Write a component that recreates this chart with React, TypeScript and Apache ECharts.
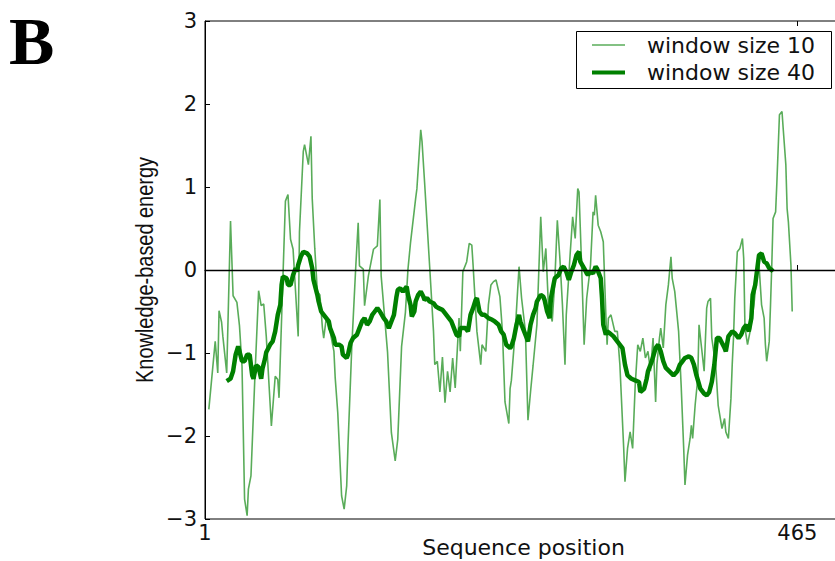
import React, { useEffect, useRef } from "react";
import * as echarts from "echarts";

// Sequence positions and energies, window size 10 (thin line)
const win10Pos = [
  4, 9, 11, 12, 14, 15, 18, 21, 23, 26, 28, 30, 32, 34, 35, 37, 40, 43, 45, 47,
  49, 53, 56, 58, 59, 62, 64, 66, 68, 70, 74, 75, 78, 79, 82, 84, 85, 87, 89, 91,
  93, 94, 96, 99, 102, 103, 105, 108, 110, 112, 113, 116, 119, 121, 122, 125, 126, 129, 133, 136,
  138, 139, 144, 147, 150, 152, 155, 158, 160, 162, 166, 167, 170, 171, 173, 177, 180, 181, 183, 185,
  187, 189, 191, 193, 195, 197, 200, 201, 203, 206, 208, 210, 211, 214, 217, 218, 221, 223, 225, 227,
  229, 232, 234, 236, 239, 240, 241, 244, 247, 249, 252, 254, 256, 258, 261, 264, 266, 268, 270, 273,
  275, 277, 279, 281, 283, 284, 287, 289, 291, 293, 294, 296, 298, 300, 303, 305, 306, 307, 309, 311,
  313, 315, 316, 317, 319, 322, 324, 326, 329, 330, 332, 334, 336, 338, 340, 342, 344, 346, 348, 350,
  352, 354, 355, 357, 358, 360, 362, 364, 366, 367, 369, 370, 372, 374, 376, 377, 379, 381, 382, 383,
  385, 387, 388, 390, 392, 394, 395, 397, 398, 401, 403, 406, 408, 409, 411, 413, 414, 415, 416, 418,
  420, 422, 423, 424, 426, 428, 431, 433, 435, 437, 439, 440, 441, 443, 444, 445, 446, 448, 449, 451,
  453, 454, 456, 457, 458, 460, 461,
];
const win10Val = [
  -1.68, -0.86, -1.24, -0.49, -0.63, -0.8, -1.24, 0.59, -0.31, -0.39, -0.67, -1.16, -2.76, -2.96, -2.64, -2.48, -1.32, -0.25, -0.43, -0.41,
  -0.8, -1.88, -1.28, -1.32, -1.54, -0.11, 0.83, 0.91, 0.37, 0.25, -0.8, 0.46, 1.43, 1.51, 1.27, 1.61, 0.86, 0.26, -0.26, -0.3,
  -0.7, -0.82, -0.58, -0.74, -0.98, -1.3, -1.72, -2.72, -2.88, -2.6, -2.12, -0.92, 0.01, 0.57, 0.05, 0.01, -0.43, -0.07, 0.25, 0.29,
  0.85, -0.07, -0.99, -1.96, -2.3, -2.04, -0.92, -0.51, 0.01, 0.33, 0.86, 0.98, 1.69, 1.55, 1.06, 0.04, -0.74, -1.14, -1.1, -1.47,
  -1.05, -1.6, -1.22, -1.47, -1.06, -1.42, -0.58, -0.98, -0.02, 0.1, 0.32, 0.3, 0.06, -0.74, -1.14, -0.9, -0.98, -0.42, -0.18, -0.14,
  -0.12, -0.32, -0.74, -1.59, -1.85, -1.43, -1.33, -0.74, 0.04, -0.34, -0.74, -1.81, -1.47, -1.15, -0.66, 0.64, -0.02, 0.26, -0.42, -0.62,
  -0.14, 0.6, 0.14, -0.42, -1.14, -0.54, 0.18, 0.64, 0.38, 0.98, 0.94, 0.06, -0.9, -0.34, 0.06, 0.7, 0.66, 0.9, 0.54, 0.46,
  0.34, -0.54, -0.9, -0.58, -0.54, -0.74, -0.74, -1.14, -2.15, -2.55, -2.15, -1.95, -2.15, -1.39, -0.9, -0.98, -0.82, -1.06, -0.98, -1.22,
  -0.82, -1.59, -1.14, -0.82, -0.7, -0.94, -0.42, -0.18, 0.16, -0.1, -0.26, -0.42, -0.74, -1.39, -2.15, -2.59, -2.23, -2.03, -1.87, -2.03,
  -1.62, -1.31, -0.66, -0.94, -1.22, -0.46, -0.38, -0.34, -0.82, -1.14, -1.63, -1.91, -1.79, -1.95, -2.03, -1.55, -1.14, -0.82, -0.34, 0.22,
  0.26, 0.38, 0.14, -0.7, -0.9, -0.74, -0.42, -0.1, 0.06, -0.42, -0.58, -0.9, -1.1, -0.86, -0.42, 0.06, 0.62, 0.7, 1.06, 1.87,
  1.91, 1.69, 1.27, 0.74, 0.58, 0.06, -0.5,
];

// Window size 40 (thick line)
const win40Pos = [
  18, 21, 23, 25, 27, 28, 30, 32, 34, 36, 38, 39, 41, 43, 45, 46, 48, 49, 52, 54,
  56, 58, 60, 61, 62, 65, 66, 68, 70, 72, 73, 74, 76, 78, 81, 83, 85, 86, 89, 90,
  92, 94, 96, 98, 99, 102, 103, 106, 108, 109, 112, 113, 115, 117, 120, 122, 124, 126, 128, 130,
  132, 134, 136, 138, 141, 143, 145, 147, 149, 151, 152, 154, 156, 159, 160, 162, 163, 165, 166, 168,
  170, 172, 173, 175, 177, 180, 182, 184, 187, 189, 192, 194, 196, 198, 200, 201, 203, 205, 207, 209,
  211, 213, 214, 216, 218, 220, 223, 226, 228, 231, 233, 235, 237, 240, 241, 243, 245, 247, 248, 250,
  253, 254, 256, 258, 260, 261, 264, 266, 267, 269, 271, 272, 274, 275, 278, 280, 282, 284, 286, 288,
  290, 292, 294, 295, 298, 300, 301, 303, 305, 307, 308, 309, 311, 312, 313, 315, 316, 318, 321, 322,
  325, 328, 330, 332, 335, 338, 341, 342, 345, 347, 348, 351, 354, 356, 358, 360, 362, 366, 368, 371,
  373, 375, 377, 380, 382, 384, 386, 389, 392, 394, 396, 398, 400, 402, 404, 406, 408, 409, 411, 414,
  416, 419, 421, 423, 425, 427, 429, 430, 432, 434, 435, 437, 439, 441, 443, 445, 446,
];
const win40Val = [
  -1.34, -1.31, -1.22, -1.02, -0.92, -0.98, -1.1, -1.1, -1.02, -1.02, -1.27, -1.31, -1.15, -1.17, -1.31, -1.19, -1.07, -0.99, -0.9, -0.86,
  -0.74, -0.54, -0.42, -0.18, -0.08, -0.1, -0.18, -0.18, -0.06, 0.02, -0.02, 0.06, 0.16, 0.22, 0.2, 0.16, 0.02, -0.12, -0.3, -0.38,
  -0.5, -0.54, -0.58, -0.62, -0.7, -0.82, -0.9, -0.9, -0.92, -1.02, -1.06, -1.02, -0.88, -0.82, -0.78, -0.7, -0.62, -0.58, -0.66, -0.62,
  -0.54, -0.5, -0.46, -0.5, -0.58, -0.62, -0.7, -0.62, -0.54, -0.32, -0.24, -0.22, -0.26, -0.2, -0.3, -0.42, -0.56, -0.5, -0.38, -0.3,
  -0.26, -0.32, -0.36, -0.34, -0.38, -0.4, -0.44, -0.46, -0.48, -0.52, -0.58, -0.62, -0.7, -0.78, -0.8, -0.7, -0.7, -0.7, -0.74, -0.54,
  -0.46, -0.36, -0.34, -0.5, -0.54, -0.54, -0.58, -0.6, -0.62, -0.66, -0.74, -0.78, -0.9, -0.94, -0.92, -0.82, -0.66, -0.54, -0.62, -0.7,
  -0.82, -0.86, -0.66, -0.54, -0.46, -0.38, -0.3, -0.32, -0.36, -0.5, -0.58, -0.34, -0.18, -0.1, -0.06, 0.02, 0.04, -0.02, -0.12, -0.02,
  0.06, 0.18, 0.22, 0.1, 0.02, -0.04, -0.06, -0.02, -0.04, 0.04, 0.02, -0.02, -0.1, -0.34, -0.66, -0.78, -0.74, -0.76, -0.8, -0.82,
  -0.88, -0.94, -1.14, -1.27, -1.31, -1.33, -1.35, -1.47, -1.43, -1.31, -1.22, -1.1, -0.94, -0.9, -0.98, -1.1, -1.18, -1.24, -1.27, -1.22,
  -1.14, -1.1, -1.06, -1.04, -1.06, -1.14, -1.27, -1.43, -1.49, -1.51, -1.47, -1.35, -1.14, -0.82, -0.82, -0.88, -0.94, -0.98, -0.8, -0.74,
  -0.76, -0.82, -0.78, -0.7, -0.66, -0.74, -0.58, -0.3, -0.18, 0.06, 0.18, 0.2, 0.1, 0.08, 0.02, 0, -0.02,
];

const xTicks = [1, 465];
const yTicks = [-3, -2, -1, 0, 1, 2, 3];
const seriesNames = ["window size 10", "window size 40"];

const zip = (xs: number[], ys: number[]) => xs.map((x, i) => [x, ys[i]]);

export default function App() {
  const ref = useRef<HTMLDivElement>(null);
  useEffect(() => {
    if (!ref.current) return;
    const chart = echarts.init(ref.current, undefined, { renderer: "svg" });
    const tickFont = { fontFamily: "DejaVu Sans", fontSize: 21, color: "#111" };
    const legendText = {
      fontFamily: "DejaVu Sans",
      fontSize: 22,
      lineHeight: 22,
      color: "#111",
      padding: [0, 0, 0, 17],
    };
    chart.setOption({
      animation: false,
      backgroundColor: "#fff",
      title: {
        text: "B",
        left: 9,
        top: 7,
        padding: 0,
        textStyle: {
          fontFamily: "Liberation Serif",
          fontWeight: "bold",
          fontSize: 68,
          lineHeight: 68,
          color: "#000",
        },
      },
      graphic: [
        {
          type: "rect",
          z: 3,
          shape: { x: 576.5, y: 31.5, width: 255, height: 57 },
          style: { fill: "#fff", stroke: "#000", lineWidth: 1 },
        },
        {
          type: "text",
          x: 145,
          y: 270,
          rotation: Math.PI / 2,
          scaleX: 0.83,
          style: {
            text: "Knowledge-based energy",
            fontFamily: "Liberation Sans",
            fontSize: 24,
            fill: "#111",
            align: "center",
            verticalAlign: "middle",
          },
        },
      ],
      legend: [
        {
          data: [seriesNames[0]],
          left: 592,
          top: 34,
          icon: "rect",
          itemWidth: 33,
          itemHeight: 1.6,
          padding: 0,
          textStyle: legendText,
        },
        {
          data: [seriesNames[1]],
          left: 592,
          top: 61.5,
          icon: "rect",
          itemWidth: 33,
          itemHeight: 4,
          padding: 0,
          textStyle: legendText,
        },
      ],
      grid: {
        left: 205,
        top: 21,
        width: 637,
        height: 498,
        show: true,
        borderColor: "#000",
        borderWidth: 1,
        outerBoundsMode: "none",
        containLabel: false,
      },
      xAxis: [
        {
          type: "value",
          min: 1,
          max: 500,
          interval: 464,
          name: "Sequence position",
          nameLocation: "middle",
          nameGap: 16,
          nameMoveOverlap: false,
          nameTextStyle: { fontFamily: "DejaVu Sans", fontSize: 22, lineHeight: 25, color: "#111" },
          axisLine: { show: true, lineStyle: { color: "#000", width: 1 } },
          axisTick: { show: true, inside: true, length: 5, customValues: xTicks, lineStyle: { color: "#000" } },
          axisLabel: { ...tickFont, margin: 3, customValues: xTicks },
          splitLine: { show: false },
        },
        {
          type: "value",
          position: "top",
          min: 1,
          max: 500,
          interval: 464,
          axisLine: { show: false },
          axisTick: { show: true, inside: true, length: 5, customValues: xTicks, lineStyle: { color: "#000" } },
          axisLabel: { show: false },
          splitLine: { show: false },
        },
      ],
      yAxis: {
        type: "value",
        min: -3,
        max: 3,
        interval: 1,
        axisLine: { show: true, lineStyle: { color: "#000", width: 1 } },
        axisTick: { show: true, inside: true, length: 5, customValues: yTicks, lineStyle: { color: "#000" } },
        axisLabel: {
          ...tickFont,
          margin: 8,
          formatter: (v: number) => (v < 0 ? "\u2212" + Math.abs(v) : String(v)),
        },
        splitLine: { show: false },
      },
      series: [
        {
          name: seriesNames[0],
          type: "line",
          data: zip(win10Pos, win10Val),
          symbol: "none",
          showSymbol: false,
          color: "rgba(0,128,0,0.65)",
          lineStyle: { width: 1.6, color: "rgba(0,128,0,0.65)" },
          z: 2,
        },
        {
          name: seriesNames[1],
          type: "line",
          data: zip(win40Pos, win40Val),
          symbol: "none",
          showSymbol: false,
          color: "#008000",
          lineStyle: { width: 4.5, color: "#008000" },
          z: 3,
          markLine: {
            silent: true,
            symbol: ["none", "none"],
            label: { show: false },
            lineStyle: { color: "#000", width: 1.3, type: "solid" },
            data: [{ yAxis: 0 }],
          },
        },
      ],
    });
    return () => chart.dispose();
  }, []);
  return (
    <div
      ref={ref}
      style={{ position: "absolute", left: 0, top: 0, width: 835, height: 561, background: "#fff" }}
    />
  );
}
